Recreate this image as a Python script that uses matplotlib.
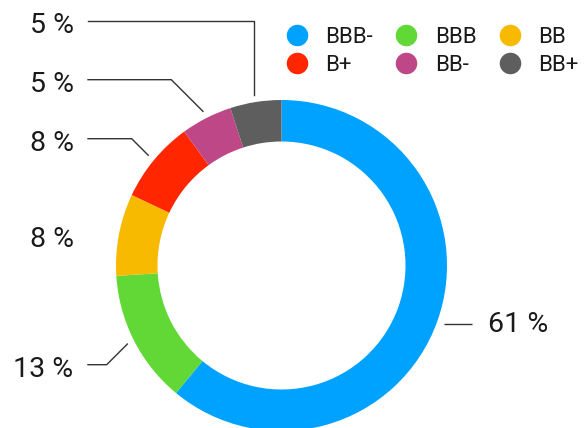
import matplotlib
matplotlib.use('Agg')
import matplotlib.pyplot as plt
import numpy as np
from matplotlib.lines import Line2D

plt.rcParams['font.family'] = ['Roboto', 'DejaVu Sans']

categories = ['BBB-', 'BBB', 'BB', 'B+', 'BB-', 'BB+']
values = [61, 13, 8, 8, 5, 5]
colors = ['#00A2FF', '#61D836', '#F8BA00', '#FF2600', '#BE4887', '#5E5E5E']
label_texts = [f'{v} %' for v in values]

W, H = 585, 428
fig = plt.figure(figsize=(W / 100, H / 100), dpi=100)
ax = fig.add_axes([0, 0, 1, 1])

cx, cy = 281.5, H - 265.5
R = 165.5
wedges, _ = ax.pie(values, colors=colors, startangle=90, counterclock=False,
                   radius=R, center=(cx, cy), frame=True,
                   wedgeprops=dict(width=41.5, edgecolor='none', linewidth=0))
ax.set_xlim(0, W)
ax.set_ylim(0, H)
ax.set_aspect('equal')
ax.axis('off')

# label layout (pixel coords from top): text baseline y, side, leader style
layout = [
    (332.3, 'right', 'h'),
    (376.7, 'left', 'diag'),
    (246.7, 'left', None),
    (150.7, 'left', 'diag'),
    (91.7, 'left', 'diag'),
    (33.3, 'left', 'vert'),
]
r_anchor = R + 7.5
line_col = '#333333'
txt_col = '#1a1a1a'
fs = 20.5
for w, txt, (base_y, side, style) in zip(wedges, label_texts, layout):
    mid = np.deg2rad((w.theta1 + w.theta2) / 2)
    ax_x = cx + r_anchor * np.cos(mid)
    ax_y = cy + r_anchor * np.sin(mid)
    if side == 'right':
        x_end = 472
        ax.plot([ax_x, x_end], [ax_y, ax_y], color=line_col, lw=1.0, solid_capstyle='butt')
        ax.text(488, H - base_y, txt, ha='left', va='baseline', fontsize=fs, color=txt_col)
    else:
        ly = H - (base_y - 12)
        if style == 'diag':
            ex = ax_x - abs(ax_y - ly)
            ax.plot([88, ex, ax_x], [ly, ly, ax_y], color=line_col, lw=1.0)
        elif style == 'vert':
            ax.plot([88, ax_x, ax_x], [ly, ly, ax_y], color=line_col, lw=1.0)
        ax.text(73.5, H - base_y, txt, ha='right', va='baseline', fontsize=fs, color=txt_col)

order = [0, 3, 1, 4, 2, 5]
handles = [Line2D([], [], marker='o', linestyle='none', markersize=15.5,
                  markerfacecolor=colors[i], markeredgewidth=0) for i in order]
leg = ax.legend(handles, [categories[i] for i in order], ncol=3, loc='upper left',
                bbox_to_anchor=(286 / W, 1 - 27 / H), frameon=False, fontsize=16,
                handlelength=0.95, handletextpad=0.8, columnspacing=1.05,
                labelspacing=0.3, borderpad=0, borderaxespad=0)
for t in leg.get_texts():
    t.set_color(txt_col)

fig.savefig('out.png', dpi=100)
